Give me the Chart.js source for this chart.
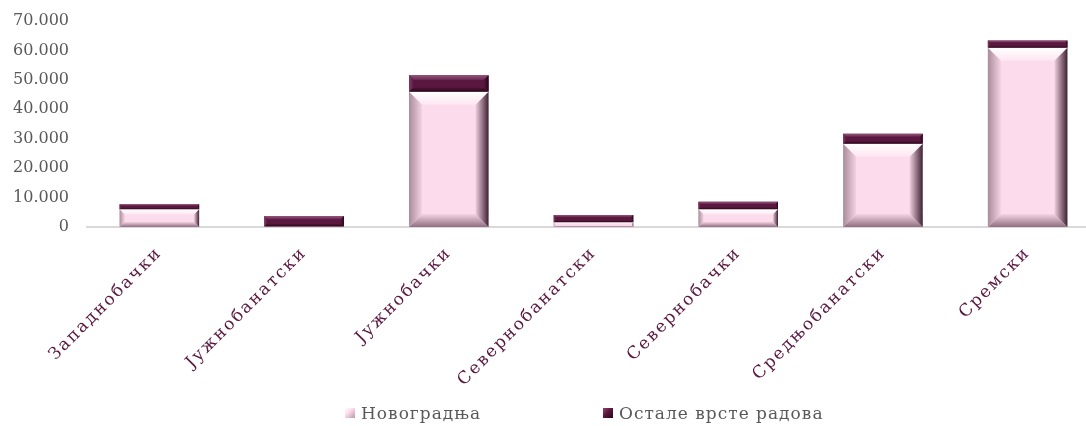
<!DOCTYPE html>
<html>
<head>
<meta charset="utf-8">
<script src="https://cdn.jsdelivr.net/npm/chart.js@4/dist/chart.umd.min.js"></script>
<style>
  html, body { margin: 0; padding: 0; background: #fff; overflow: hidden; }
  #wrap { position: relative; width: 1100px; height: 426px; }
  .item { position: absolute; top: 402px; height: 22px; display: flex; align-items: center; white-space: nowrap;
          font-family: "DejaVu Serif", serif; font-size: 17px; color: #595959; letter-spacing: 1px; }
  .box { width: 10px; height: 10px; margin-right: 6px; display: inline-block; }
</style>
</head>
<body>
<div id="wrap">
  <canvas id="c" width="1100" height="426"></canvas>
</div>
<script>
const categories = ["Западнобачки", "Јужнобанатски", "Јужнобачки", "Севернобанатски", "Севернобачки", "Средњобанатски", "Сремски"];
const seriesNames = ["Новоградња", "Остале врсте радова"];
const novogradnja = [6000, 200, 46000, 1600, 6000, 28300, 60900];
const ostale = [1700, 3500, 5600, 2500, 2600, 3400, 2500];
const yTickLabels = ["0", "10.000", "20.000", "30.000", "40.000", "50.000", "60.000", "70.000"];

const baseColors = ["#fcdcec", "#5a1840"];
const bevelSets = [
  { top: ["#ffffff", "#fde6f1"], bottom: ["#f6d4e4", "#8f6f80"], left: ["#a98b9a", "#f3d3e3"], right: ["#efcfdf", "#3e2232"] },
  { top: ["#93577a", "#6a2650"], bottom: ["#5a1840", "#2a0618"], left: ["#7c3c60", "#5a1840"], right: ["#5a1840", "#220414"] }
];

class SpacedCategory extends Chart.CategoryScale {
  drawLabels(area) {
    const ctx = this.ctx;
    const prev = ctx.letterSpacing;
    ctx.letterSpacing = '2px';
    super.drawLabels(area);
    ctx.letterSpacing = prev || '0px';
  }
}
SpacedCategory.id = 'spacedCategory';
SpacedCategory.defaults = Chart.CategoryScale.defaults;
Chart.register(SpacedCategory);

const bevelPlugin = {
  id: 'bevel',
  afterDatasetsDraw(chart) {
    const ctx = chart.ctx;
    chart.getSortedVisibleDatasetMetas().forEach(meta => {
      const set = bevelSets[meta.index];
      meta.data.forEach(el => {
        const p = el.getProps(['x', 'y', 'base', 'width'], true);
        const x0 = p.x - p.width / 2, x1 = p.x + p.width / 2;
        const y0 = Math.min(p.y, p.base), y1 = Math.max(p.y, p.base);
        const h = y1 - y0;
        if (h < 1) return;
        const b = Math.min(13, h / 3.4, p.width / 4);
        const poly = (pts, g) => {
          ctx.beginPath();
          ctx.moveTo(pts[0][0], pts[0][1]);
          for (let i = 1; i < pts.length; i++) ctx.lineTo(pts[i][0], pts[i][1]);
          ctx.closePath();
          ctx.fillStyle = g;
          ctx.fill();
        };
        ctx.save();
        let g = ctx.createLinearGradient(0, y0, 0, y0 + b);
        g.addColorStop(0, set.top[0]); g.addColorStop(1, set.top[1]);
        poly([[x0, y0], [x1, y0], [x1 - b, y0 + b], [x0 + b, y0 + b]], g);
        g = ctx.createLinearGradient(0, y1 - b, 0, y1);
        g.addColorStop(0, set.bottom[0]); g.addColorStop(1, set.bottom[1]);
        poly([[x0, y1], [x1, y1], [x1 - b, y1 - b], [x0 + b, y1 - b]], g);
        g = ctx.createLinearGradient(x0, 0, x0 + b, 0);
        g.addColorStop(0, set.left[0]); g.addColorStop(1, set.left[1]);
        poly([[x0, y0], [x0 + b, y0 + b], [x0 + b, y1 - b], [x0, y1]], g);
        g = ctx.createLinearGradient(x1 - b, 0, x1, 0);
        g.addColorStop(0, set.right[0]); g.addColorStop(1, set.right[1]);
        poly([[x1, y0], [x1 - b, y0 + b], [x1 - b, y1 - b], [x1, y1]], g);
        ctx.restore();
      });
    });
  }
};

const chart = new Chart(document.getElementById('c'), {
  type: 'bar',
  data: {
    labels: categories,
    datasets: [
      { label: seriesNames[0], data: novogradnja, backgroundColor: baseColors[0], borderWidth: 0 },
      { label: seriesNames[1], data: ostale, backgroundColor: baseColors[1], borderWidth: 0 }
    ]
  },
  options: {
    responsive: false,
    animation: false,
    layout: { padding: { top: 21, right: 0, bottom: 0, left: 0 } },
    datasets: { bar: { categoryPercentage: 1, barPercentage: 0.55 } },
    plugins: { legend: { display: false }, tooltip: { enabled: false } },
    scales: {
      x: {
        type: 'spacedCategory',
        stacked: true,
        grid: { display: false, drawTicks: false },
        border: { display: true, color: '#d9d9d9', width: 2 },
        ticks: {
          color: '#5a1840', minRotation: 45, maxRotation: 45, padding: 16,
          autoSkip: false,
          font: { family: '"DejaVu Serif", serif', size: 17 }
        },
        afterFit(scale) { scale.height = 199; scale.paddingLeft = 0; scale.paddingRight = 0; }
      },
      y: {
        stacked: true,
        min: 0, max: 70000,
        grid: { display: false, drawTicks: false },
        border: { display: false },
        ticks: {
          stepSize: 10000, padding: 18, color: '#595959',
          font: { family: '"DejaVu Serif", serif', size: 16 },
          callback: (v, i) => yTickLabels[i]
        },
        afterFit(scale) { scale.width = 87; scale.paddingTop = 0; scale.paddingBottom = 0; }
      }
    }
  },
  plugins: [bevelPlugin]
});

const wrap = document.getElementById('wrap');
const legendLefts = [345, 603];
seriesNames.forEach((name, i) => {
  const it = document.createElement('div');
  it.className = 'item';
  it.style.left = legendLefts[i] + 'px';
  const box = document.createElement('span');
  box.className = 'box';
  box.style.background = i === 0
    ? 'linear-gradient(135deg, #fff 0%, #fcdcec 40%, #b898a8 100%)'
    : 'linear-gradient(135deg, #8a4a6a 0%, #5a1840 45%, #2a0618 100%)';
  const t = document.createElement('span');
  t.textContent = name;
  it.appendChild(box); it.appendChild(t);
  wrap.appendChild(it);
});
</script>
</body>
</html>
